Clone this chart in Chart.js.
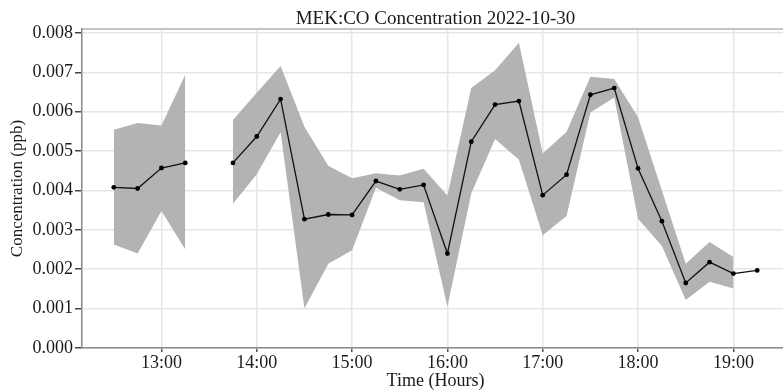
<!DOCTYPE html>
<html>
<head>
<meta charset="utf-8">
<script src="https://cdn.jsdelivr.net/npm/chart.js@4/dist/chart.umd.min.js"></script>
<style>
  html, body { margin: 0; padding: 0; background: #fff; overflow: hidden; }
  #wrap { width: 793px; height: 392px; }
</style>
</head>
<body>
<div id="wrap"><canvas id="myChart" width="793" height="392"></canvas></div>
<script>
// sample times (15 min steps), 13:30 has no data
const times = ['12:30', '12:45', '13:00', '13:15', '13:30', '13:45', '14:00', '14:15', '14:30', '14:45',
    '15:00', '15:15', '15:30', '15:45', '16:00', '16:15', '16:30', '16:45', '17:00', '17:15',
    '17:30', '17:45', '18:00', '18:15', '18:30', '18:45', '19:00', '19:15'];

const meanConc = [0.00408, 0.00405, 0.00457, 0.00470, null, 0.00470, 0.00537, 0.00632, 0.00327, 0.00339,
    0.00338, 0.00424, 0.00403, 0.00414, 0.00240, 0.00524, 0.00618, 0.00627, 0.00388, 0.00440,
    0.00643, 0.00660, 0.00456, 0.00322, 0.00165, 0.00218, 0.00189, 0.00197];

const upperConc = [0.00554, 0.00571, 0.00565, 0.00694, null, 0.00579, 0.00648, 0.00716, 0.00562, 0.00463,
    0.00431, 0.00444, 0.00438, 0.00455, 0.00387, 0.00660, 0.00705, 0.00775, 0.00494, 0.00549,
    0.00689, 0.00683, 0.00586, 0.00400, 0.00214, 0.00269, 0.00231, null];

const lowerConc = [0.00263, 0.00240, 0.00348, 0.00250, null, 0.00366, 0.00441, 0.00548, 0.00100, 0.00214,
    0.00248, 0.00407, 0.00375, 0.00370, 0.00105, 0.00392, 0.00531, 0.00478, 0.00286, 0.00335,
    0.00598, 0.00636, 0.00328, 0.00259, 0.00122, 0.00168, 0.00151, null];

const hourTicks = ['13:00', '14:00', '15:00', '16:00', '17:00', '18:00', '19:00'];
const concTicks = [0, 0.001, 0.002, 0.003, 0.004, 0.005, 0.006, 0.007, 0.008];

const toHours = (t) => {
    const [h, m] = t.split(':').map(Number);
    return h + m / 60;
};
const fmtHour = (v) => {
    const h = Math.floor(v + 1e-6);
    const m = Math.round((v - h) * 60);
    return `${h}:${String(m).padStart(2, '0')}`;
};
const toPoints = (vals) => times.map((t, i) => ({ x: toHours(t), y: vals[i] }));

const serif = '"Liberation Serif", "DejaVu Serif", serif';
const xMin = toHours('12:10');
const xMax = toHours('19:35');

const chartCanvas = document.getElementById('myChart').getContext('2d');
new Chart(chartCanvas, {
    type: 'line',
    data: {
        datasets: [
            {
                data: toPoints(upperConc),
                backgroundColor: '#b3b3b3',
                borderWidth: 0,
                pointRadius: 0,
                fill: '+1',
                spanGaps: false
            },
            {
                data: toPoints(lowerConc),
                backgroundColor: '#b3b3b3',
                borderWidth: 0,
                pointRadius: 0,
                fill: false,
                spanGaps: false
            },
            {
                data: toPoints(meanConc),
                borderColor: '#111',
                borderWidth: 1.3,
                backgroundColor: '#000',
                pointRadius: 2.4,
                pointBorderWidth: 0,
                pointBackgroundColor: '#000',
                fill: false,
                spanGaps: false
            }
        ]
    },
    options: {
        responsive: false,
        animation: false,
        events: [],
        layout: { padding: 0 },
        plugins: {
            legend: { display: false },
            tooltip: { enabled: false },
            filler: { drawTime: 'beforeDatasetsDraw' }
        },
        scales: {
            x: {
                type: 'linear',
                min: xMin,
                max: xMax,
                afterBuildTicks: (scale) => {
                    scale.ticks = hourTicks.map(t => ({ value: toHours(t) }));
                },
                afterFit: (scale) => { scale.height = 44; },
                ticks: {
                    callback: (v) => fmtHour(v),
                    color: '#1a1a1a',
                    font: { family: serif, size: 18 },
                    padding: 0,
                    maxRotation: 0
                },
                grid: { color: '#e6e6e6', lineWidth: 1.5, tickLength: 4, tickColor: '#555' },
                border: { color: '#8a8a8a', width: 1.5 },
                title: {
                    display: true,
                    text: 'Time (Hours)',
                    color: '#1a1a1a',
                    font: { family: serif, size: 18 },
                    padding: { top: -1, bottom: 0 }
                }
            },
            // top axis only carries the frame line and the chart title
            top: {
                type: 'linear',
                position: 'top',
                min: xMin,
                max: xMax,
                afterFit: (scale) => { scale.height = 29; },
                ticks: { display: false },
                grid: { display: false },
                border: { display: true, color: '#c4c4c4', width: 2 },
                title: {
                    display: true,
                    text: 'MEK:CO Concentration 2022-10-30',
                    color: '#1a1a1a',
                    font: { family: serif, size: 19 },
                    padding: { top: 8, bottom: 0 }
                }
            },
            y: {
                min: 0,
                max: 0.0081,
                afterBuildTicks: (scale) => {
                    scale.ticks = concTicks.map(v => ({ value: v }));
                },
                afterFit: (scale) => { scale.width = 82; },
                ticks: {
                    callback: (v) => v.toFixed(3),
                    color: '#1a1a1a',
                    font: { family: serif, size: 18 },
                    padding: 2
                },
                grid: { color: '#e6e6e6', lineWidth: 1.5, tickLength: 7, tickColor: '#444' },
                border: { color: '#8a8a8a', width: 1.5 },
                title: {
                    display: true,
                    text: 'Concentration (ppb)',
                    color: '#1a1a1a',
                    font: { family: serif, size: 17 },
                    padding: { top: 7, bottom: 0 }
                }
            }
        }
    }
});
</script>
</body>
</html>
